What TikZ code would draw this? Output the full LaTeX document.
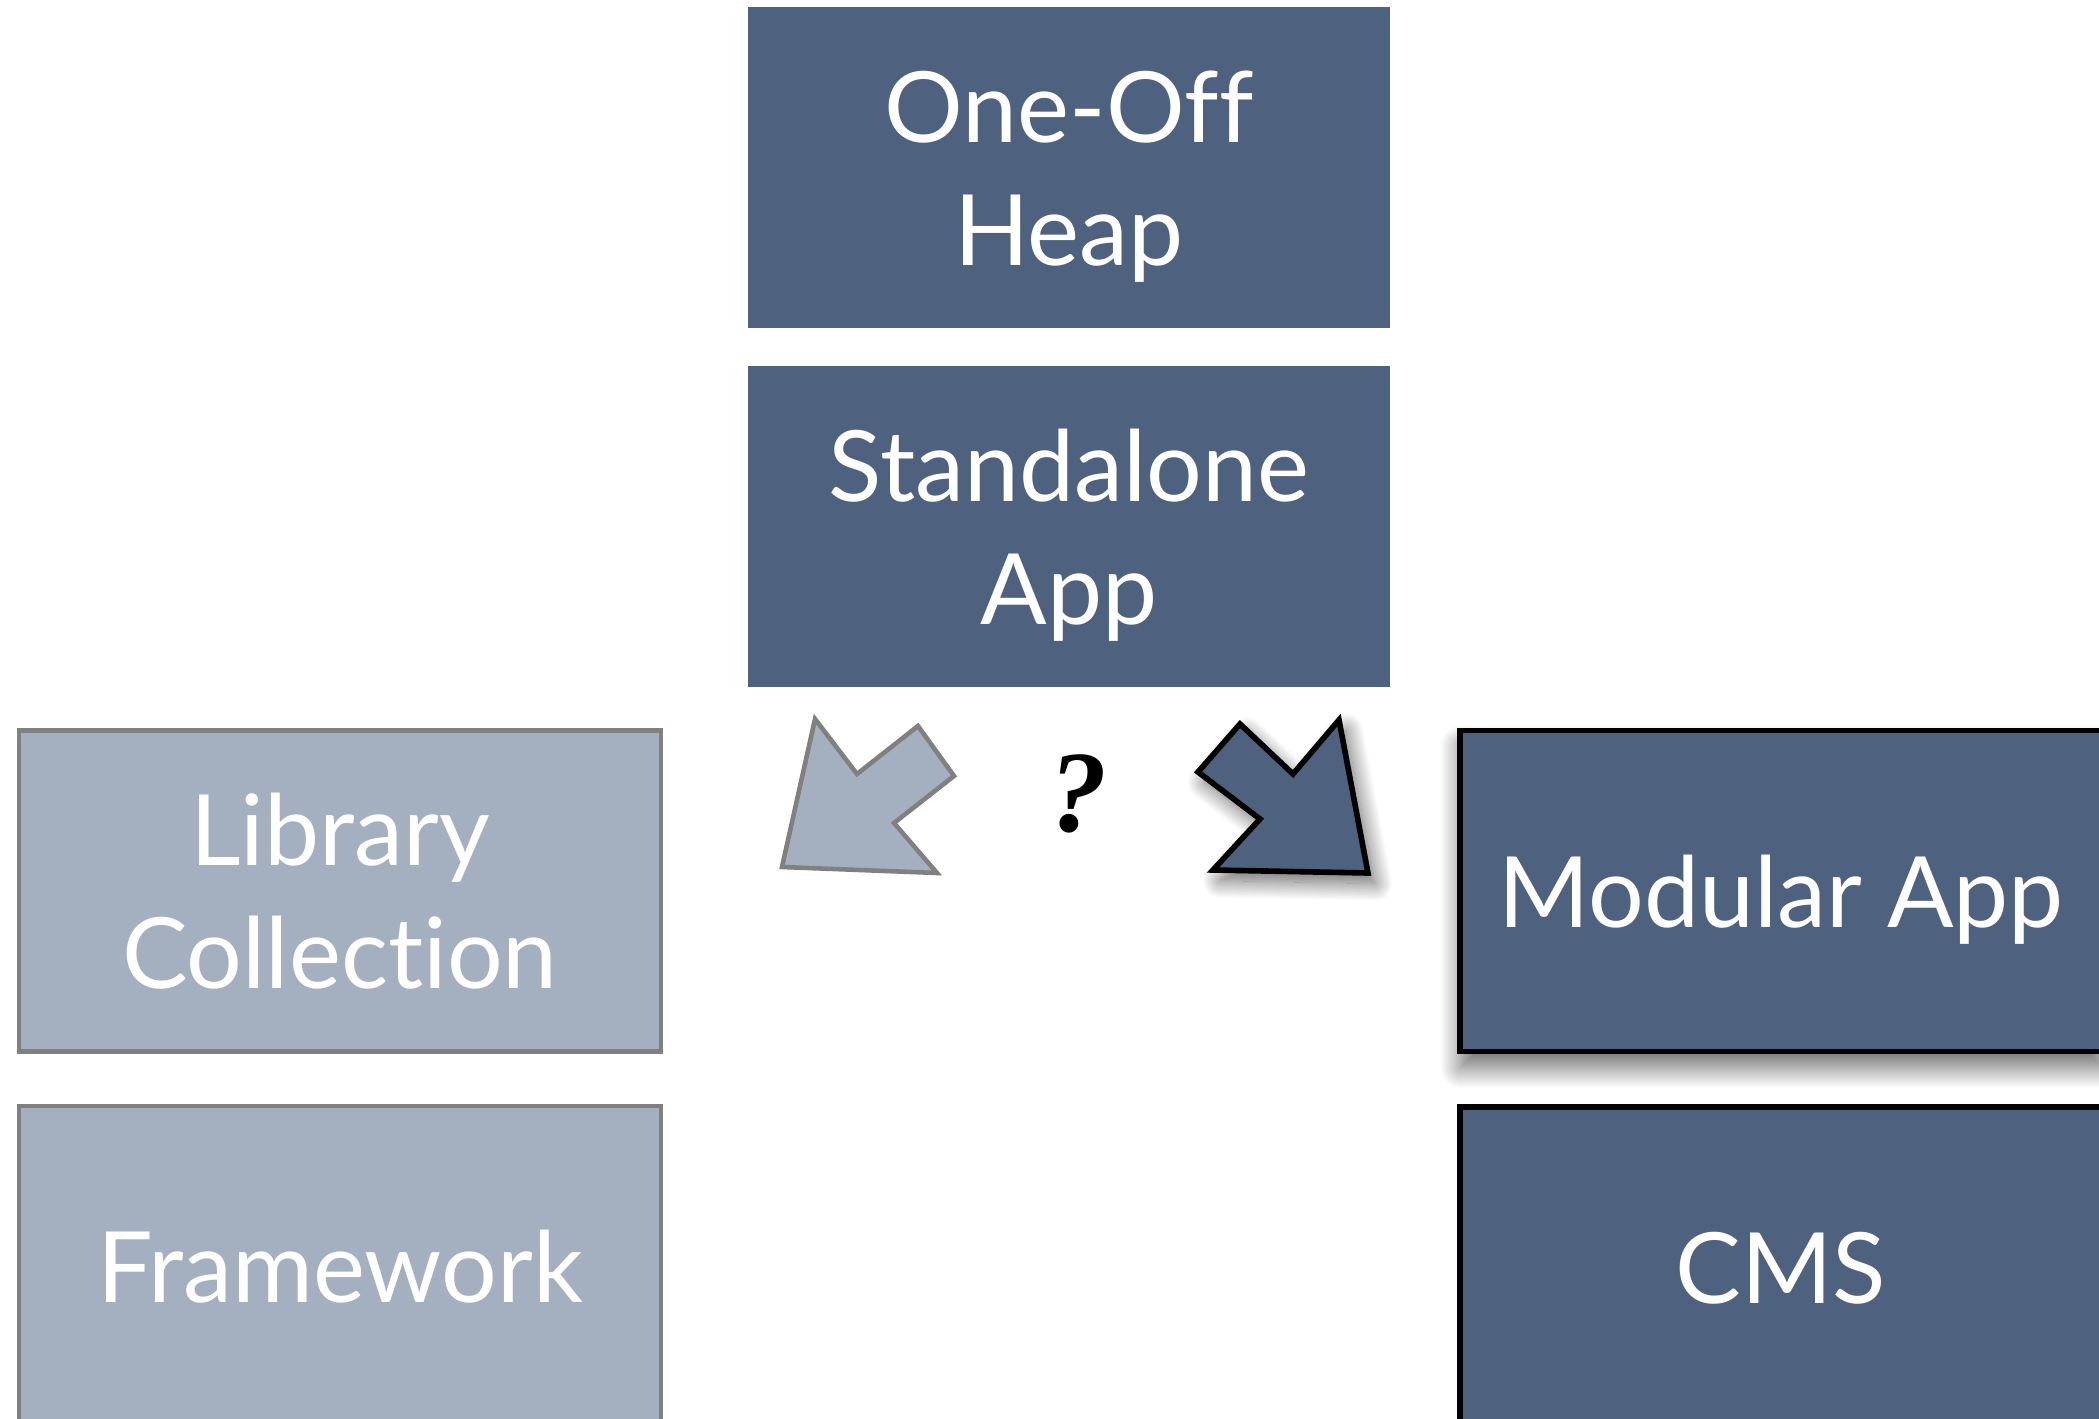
\documentclass[tikz,border=0pt]{standalone}
\usepackage{fontspec}
\usepackage{tikz}
\usetikzlibrary{positioning,shadows.blur}
\setmainfont[Ligatures=NoCommon]{Lato}
\newfontfamily\askfont{Liberation Serif}
\definecolor{slatedark}{RGB}{78,98,128}
\definecolor{slatelight}{RGB}{164,176,192}
\definecolor{edgegray}{RGB}{128,128,128}

\tikzset{
  stagebox/.style={minimum width=64.2mm, minimum height=32.1mm, inner sep=0pt,
    align=center, text=white, text depth=0pt, font=\fontsize{28}{35}\selectfont},
  darkbox/.style={stagebox, fill=slatedark},
  lightbox/.style={stagebox, fill=slatelight, draw=edgegray, line width=1.3pt},
  pickedbox/.style={darkbox, draw=black, line width=1.55pt},
  softshadow/.style={blur shadow={shadow xshift=0.3pt, shadow yshift=-4.5pt,
    shadow blur radius=6pt, shadow blur steps=24, shadow opacity=60}}
}

\begin{document}
\begin{tikzpicture}[x=0.1mm, y=-0.1mm]
    \useasboundingbox (0,0) rectangle (2099,1419);

    % middle column: where it starts
    \node[darkbox] (heap) at (1069,168) {One-Off\\Heap};
    \node[darkbox, below=3.6mm of heap] (standalone) {Standalone\\App};

    % left column (not taken)
    \node[lightbox] (library) at (340,891) {Library\\Collection};
    \node[lightbox, below=5mm of library] (framework) {Framework};

    % right column (taken)
    \node[pickedbox, softshadow] (modular) at (1781,891) {Modular App};
    \node[pickedbox, below=5mm of modular] (cms) {CMS};

    % the two block arrows and the question between them
    \draw[fill=slatelight, draw=edgegray, line width=1.3pt, line join=miter]
        (815,719) -- (857,774) -- (918,726) -- (954,776) -- (894,823)
        -- (937,873) -- (782,867) -- cycle;
    \draw[fill=slatedark, draw=black, line width=1.6pt, line join=miter,
        blur shadow={shadow xshift=2pt, shadow yshift=-3pt, shadow blur radius=5pt,
        shadow blur steps=24, shadow opacity=60}]
        (1240,724) -- (1293,774) -- (1339,720) -- (1368,873) -- (1213,870)
        -- (1260,819) -- (1198,772) -- cycle;
    \node[font=\askfont\bfseries\itshape\fontsize{33}{33}\selectfont] (ask) at (1078,794) {?};

\end{tikzpicture}
\end{document}
